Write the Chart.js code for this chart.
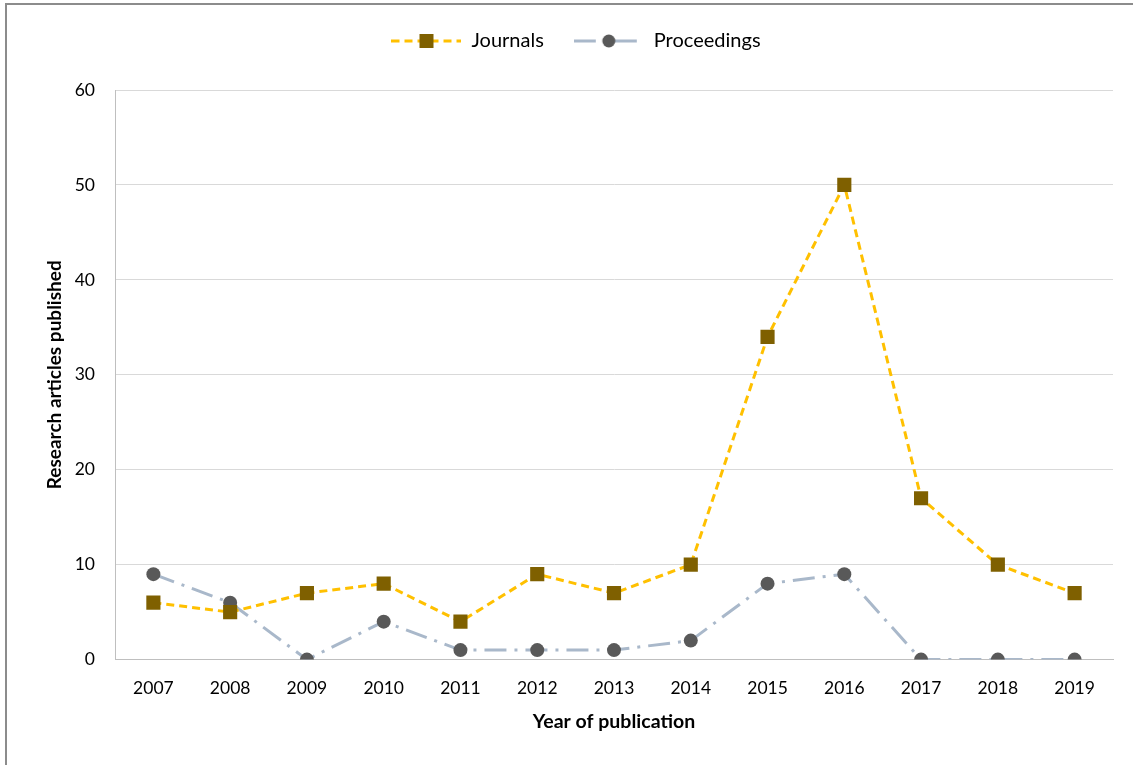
<!DOCTYPE html>
<html>
<head>
<meta charset="utf-8">
<style>
  html, body { margin: 0; padding: 0; background: #fff; }
  #wrap { position: relative; width: 1133px; height: 765px; }
</style>
<script src="https://cdn.jsdelivr.net/npm/chart.js@4/dist/chart.umd.min.js"></script>
</head>
<body>
<div id="wrap"><canvas id="chart" width="1133" height="765"></canvas></div>
<script>
// Publication counts per year
const years = ['2007','2008','2009','2010','2011','2012','2013','2014','2015','2016','2017','2018','2019'];
const journals = [6, 5, 7, 8, 4, 9, 7, 10, 34, 50, 17, 10, 7];
const proceedings = [9, 6, 0, 4, 1, 1, 1, 2, 8, 9, 0, 0, 0];
const yTicks = [0, 10, 20, 30, 40, 50, 60];

const FONT = 'Lato, "Open Sans", "Noto Sans", sans-serif';

const styles = {
  journals: { line: '#FFC000', dash: [8, 5], marker: '#7F6000', shape: 'rect', radius: 10 },
  proceedings: { line: '#A9B8CA', dash: [22, 8, 3, 8], marker: '#595959', shape: 'circle', radius: 7 }
};

// Legend swatch: a short stretch of the series line with its marker in the middle
function swatch(s) {
  const c = document.createElement('canvas');
  c.width = 70; c.height = 20;
  const g = c.getContext('2d');
  g.strokeStyle = s.line; g.lineWidth = 3; g.setLineDash(s.dash);
  g.beginPath(); g.moveTo(0, 10); g.lineTo(70, 10); g.stroke();
  g.setLineDash([]);
  g.fillStyle = s.marker;
  if (s.shape === 'rect') g.fillRect(35 - 7, 10 - 7, 14, 14);
  else { g.beginPath(); g.arc(35, 10, 6.5, 0, Math.PI * 2); g.fill(); }
  return c;
}

// Left and top frame lines around the figure
const frame = {
  id: 'frame',
  afterDraw(chart) {
    const ctx = chart.ctx;
    ctx.save();
    ctx.strokeStyle = '#8c8c8c';
    ctx.lineWidth = 2;
    ctx.beginPath();
    ctx.moveTo(6, 765); ctx.lineTo(6, 4); ctx.lineTo(1133, 4);
    ctx.stroke();
    ctx.restore();
  }
};

// Extra room between the legend and the plot
const legendGap = {
  id: 'legendGap',
  beforeInit(chart) {
    const legend = chart.legend;
    const fit = legend.fit;
    legend.fit = function () { fit.call(legend); legend.height += 29; };
  }
};

function ds(label, data, s) {
  return {
    label, data,
    borderColor: s.line, borderWidth: 3, borderDash: s.dash,
    backgroundColor: s.marker,
    pointStyle: s.shape, pointRadius: s.radius, pointHoverRadius: s.radius,
    pointBackgroundColor: s.marker, pointBorderColor: s.marker, pointBorderWidth: 0,
    tension: 0, fill: false
  };
}

new Chart(document.getElementById('chart'), {
  type: 'line',
  data: {
    labels: years,
    datasets: [
      ds('Journals', journals, styles.journals),
      ds('Proceedings', proceedings, styles.proceedings)
    ]
  },
  options: {
    responsive: false,
    animation: false,
    devicePixelRatio: 1,
    layout: { padding: { left: 39, right: 20, top: 1, bottom: 32 } },
    plugins: {
      tooltip: { enabled: false },
      legend: {
        position: 'top',
        labels: {
          usePointStyle: true,
          pointStyleWidth: 70,
          boxHeight: 20,
          padding: 30,
          color: '#000',
          font: { family: FONT, size: 20 },
          generateLabels(chart) {
            return [
              { text: 'Journals', pointStyle: swatch(styles.journals), datasetIndex: 0, fontColor: '#000', lineWidth: 0, strokeStyle: 'transparent', fillStyle: 'transparent' },
              { text: 'Proceedings', pointStyle: swatch(styles.proceedings), datasetIndex: 1, fontColor: '#000', lineWidth: 0, strokeStyle: 'transparent', fillStyle: 'transparent' }
            ];
          }
        }
      }
    },
    scales: {
      x: {
        offset: true,
        grid: { display: false, drawTicks: false },
        border: { display: true, color: '#bfbfbf', width: 1 },
        ticks: { color: '#000', font: { family: FONT, size: 17.5 }, padding: 18, maxRotation: 0 },
        title: { display: true, text: 'Year of publication', color: '#000', font: { family: FONT, size: 19.5, weight: 'bold' }, padding: { top: 2, bottom: 0 } },
        afterFit(axis) { axis.height -= 9; }
      },
      y: {
        min: 0, max: 60,
        afterBuildTicks(axis) { axis.ticks = yTicks.map(v => ({ value: v })); },
        grid: { color: '#d9d9d9', lineWidth: 1, drawTicks: false },
        border: { display: true, color: '#bfbfbf', width: 1 },
        ticks: { color: '#000', font: { family: FONT, size: 17.5 }, padding: 20 },
        title: { display: true, text: 'Research articles published', color: '#000', font: { family: FONT, size: 19, weight: 'bold' }, padding: { top: 4, bottom: 0 } },
        afterFit(axis) { axis.width = 76; }
      }
    }
  },
  plugins: [frame, legendGap]
});
</script>
</body>
</html>
